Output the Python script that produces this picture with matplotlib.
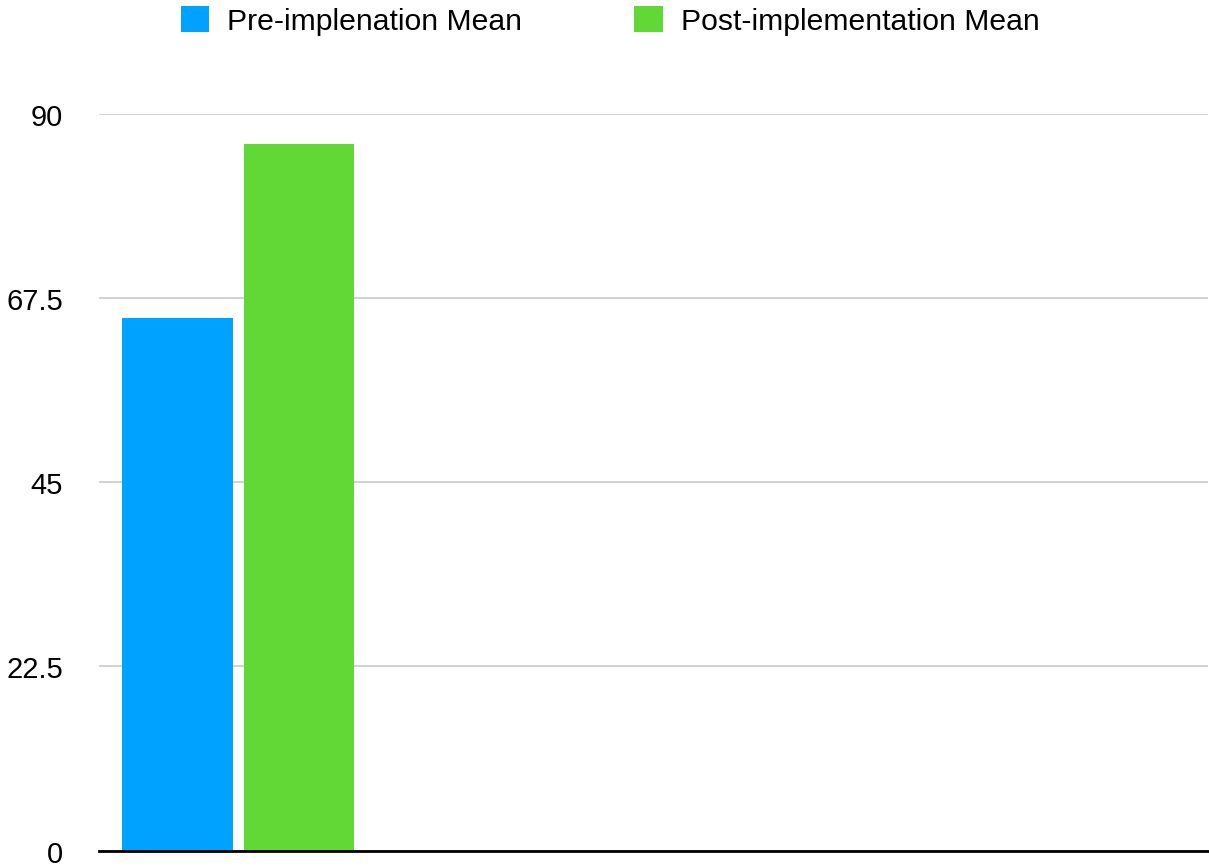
import matplotlib
matplotlib.use("Agg")
import matplotlib.pyplot as plt
import matplotlib.transforms as mtransforms
from matplotlib.patches import Patch

series_names = ["Pre-implenation Mean", "Post-implementation Mean"]
series_values = [65.0, 86.3]
colors = ["#00A2FF", "#61D836"]
yticks = [0, 22.5, 45, 67.5, 90]
ytick_labels = ["0", "22.5", "45", "67.5", "90"]

plt.rcParams['font.family'] = ['Liberation Sans', 'DejaVu Sans']

W, H = 1209, 867
fig = plt.figure(figsize=(W / 100, H / 100), dpi=100)
ax = fig.add_axes([99 / W, 1 - 850.7 / H, (1208 - 99) / W, (850.7 - 113.7) / H])

positions = [0, 1.1]
for x, v, c, n in zip(positions, series_values, colors, series_names):
    ax.bar(x, v, width=1.0, color=c, label=n, zorder=3)

ax.set_xlim(-0.707, 9.31)
ax.set_ylim(0, 90)
ax.set_yticks(yticks)
ax.set_yticklabels(ytick_labels, fontsize=21)
ax.set_xticks([])
ax.tick_params(axis='y', length=0, pad=26)
offset = mtransforms.ScaledTranslation(0, -4 / 100, fig.dpi_scale_trans)
for lbl in ax.get_yticklabels():
    lbl.set_verticalalignment('center')
    lbl.set_transform(lbl.get_transform() + offset)
ax.grid(axis='y', color='#cfcfcf', linewidth=1.3, zorder=0)
for s in ['top', 'right', 'left']:
    ax.spines[s].set_visible(False)
ax.spines['bottom'].set_color('black')
ax.spines['bottom'].set_linewidth(2.0)
ax.spines['bottom'].set_zorder(4)

handles = [Patch(facecolor=c, edgecolor='none') for c in colors]
fig.legend(handles, series_names, loc='center', bbox_to_anchor=(610 / W, 1 - 21 / H),
           ncol=2, frameon=False, fontsize=21.7, handlelength=0.95, handleheight=0.95,
           handletextpad=0.6, columnspacing=3.7, borderaxespad=0, borderpad=0)

fig.savefig("out.png", dpi=100)
